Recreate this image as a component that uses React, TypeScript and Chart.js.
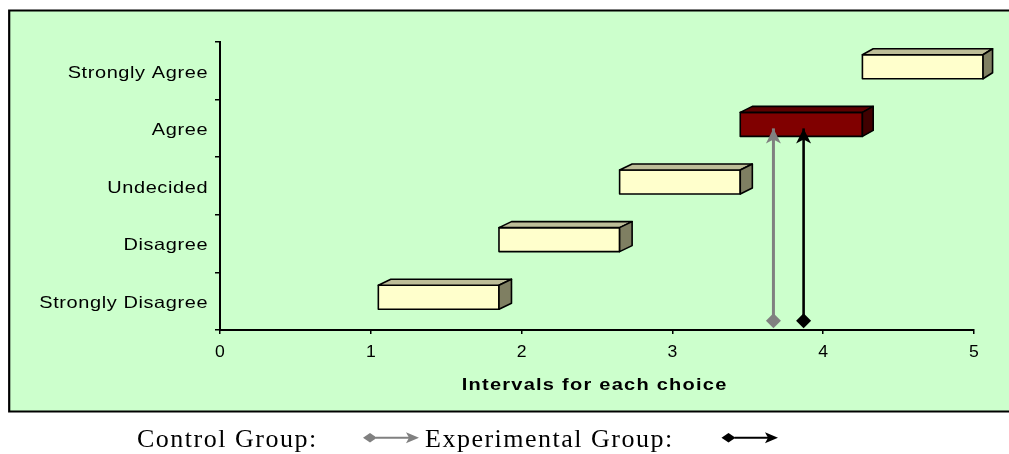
import React, { useEffect, useRef } from "react";
import { Chart, registerables } from "chart.js";

Chart.register(...registerables);

// ---------- data ----------
const categories = ["Strongly Disagree", "Disagree", "Undecided", "Agree", "Strongly Agree"];
const intervalStarts = [1.05, 1.85, 2.65, 3.45, 4.26];
const intervalEnds = [1.85, 2.65, 3.45, 4.26, 5.06];
const highlighted = [false, false, false, true, false];
const xTicks = [0, 1, 2, 3, 4, 5];
const controlMean = 3.67;
const experimentalMean = 3.87;
const arrowFrom = 0.16; // on the vertical value axis, in category units
const arrowTo = 3.5;
const xTitle = "Intervals for each choice";
const legendLabels = ["Control Group:", "Experimental Group:"];

// ---------- styles ----------
const GREEN = "#CCFFCC";
const BAR_FRONT = "#FFFFCC";
const BAR_TOP = "#BDBD98";
const BAR_SIDE = "#7F7F62";
const HL_FRONT = "#800000";
const HL_TOP = "#5E0000";
const HL_SIDE = "#400000";
const CONTROL_COLOR = "#808080";
const EXP_COLOR = "#000000";
const BAR_THICKNESS = 24;
const SANS = '"Liberation Sans", Arial, sans-serif';
const SERIF = '"Liberation Serif", "Times New Roman", serif';

function drawText(
  ctx: CanvasRenderingContext2D,
  text: string,
  x: number,
  y: number,
  sx: number,
  spacing: number,
  align: "left" | "right" | "center"
) {
  const chars = Array.from(text);
  const widths = chars.map((c) => ctx.measureText(c).width * sx);
  const total = widths.reduce((a, b) => a + b, 0) + spacing * (chars.length - 1);
  let pos = align === "right" ? x - total : align === "center" ? x - total / 2 : x;
  ctx.textAlign = "left";
  chars.forEach((c, i) => {
    ctx.save();
    ctx.translate(pos, y);
    ctx.scale(sx, 1);
    ctx.fillText(c, 0, 0);
    ctx.restore();
    pos += widths[i] + spacing;
  });
}

const depthX = (px: number) => 12.5 - Math.max(0, px - 700) / 95;
const DEPTH_Y = -6;

const boxPlugin = {
  id: "box",
  beforeDraw(chart: any) {
    const ctx = chart.ctx as CanvasRenderingContext2D;
    ctx.save();
    ctx.fillStyle = GREEN;
    ctx.fillRect(9, 10.5, chart.width, 401);
    ctx.strokeStyle = "#000";
    ctx.lineWidth = 2.2;
    ctx.beginPath();
    ctx.moveTo(chart.width + 5, 10.5);
    ctx.lineTo(9.2, 10.5);
    ctx.lineTo(9.2, 411.5);
    ctx.lineTo(chart.width + 5, 411.5);
    ctx.stroke();
    ctx.restore();
  },
};

const barsPlugin = {
  id: "bars3d",
  beforeDatasetsDraw(chart: any) {
    const ctx = chart.ctx as CanvasRenderingContext2D;
    const xs = chart.scales.x;
    const ys = chart.scales.y;
    ctx.save();
    ctx.lineWidth = 1.6;
    ctx.strokeStyle = "#000";
    ctx.lineJoin = "round";
    categories.forEach((_, i) => {
      const a = xs.getPixelForValue(intervalStarts[i]);
      const b = xs.getPixelForValue(intervalEnds[i]);
      const c = ys.getPixelForValue(i);
      const L = Math.min(a, b);
      const R = Math.max(a, b);
      const T = c - BAR_THICKNESS / 2 - 4;
      const B = c + BAR_THICKNESS / 2 - 4;
      const dxL = depthX(L);
      const dxR = depthX(R);
      const hl = highlighted[i];
      // front
      ctx.fillStyle = hl ? HL_FRONT : BAR_FRONT;
      ctx.beginPath();
      ctx.rect(L, T, R - L, B - T);
      ctx.fill();
      ctx.stroke();
      // top
      ctx.fillStyle = hl ? HL_TOP : BAR_TOP;
      ctx.beginPath();
      ctx.moveTo(L, T);
      ctx.lineTo(L + dxL, T + DEPTH_Y);
      ctx.lineTo(R + dxR, T + DEPTH_Y);
      ctx.lineTo(R, T);
      ctx.closePath();
      ctx.fill();
      ctx.stroke();
      // side
      ctx.fillStyle = hl ? HL_SIDE : BAR_SIDE;
      ctx.beginPath();
      ctx.moveTo(R, T);
      ctx.lineTo(R + dxR, T + DEPTH_Y);
      ctx.lineTo(R + dxR, B + DEPTH_Y);
      ctx.lineTo(R, B);
      ctx.closePath();
      ctx.fill();
      ctx.stroke();
    });
    ctx.restore();
  },
  afterDatasetsDraw(chart: any) {
    const ctx = chart.ctx as CanvasRenderingContext2D;
    ctx.save();
    [1, 2].forEach((di) => {
      const meta = chart.getDatasetMeta(di);
      const pts = meta.data;
      const tip = pts[pts.length - 1];
      ctx.fillStyle = chart.data.datasets[di].borderColor;
      ctx.beginPath();
      ctx.moveTo(tip.x, tip.y);
      ctx.lineTo(tip.x + 7.5, tip.y + 15);
      ctx.lineTo(tip.x, tip.y + 11);
      ctx.lineTo(tip.x - 7.5, tip.y + 15);
      ctx.closePath();
      ctx.fill();
    });
    ctx.restore();
  },
};

function legendSymbol(ctx: CanvasRenderingContext2D, cx: number, cy: number, end: number, color: string) {
  ctx.fillStyle = color;
  ctx.strokeStyle = color;
  ctx.beginPath();
  ctx.moveTo(cx - 7, cy);
  ctx.lineTo(cx, cy - 4.8);
  ctx.lineTo(cx + 7, cy);
  ctx.lineTo(cx, cy + 4.8);
  ctx.closePath();
  ctx.fill();
  ctx.lineWidth = 2;
  ctx.beginPath();
  ctx.moveTo(cx + 6, cy);
  ctx.lineTo(end - 9, cy);
  ctx.stroke();
  ctx.beginPath();
  ctx.moveTo(end, cy);
  ctx.lineTo(end - 13, cy - 5.5);
  ctx.lineTo(end - 10, cy);
  ctx.lineTo(end - 13, cy + 5.5);
  ctx.closePath();
  ctx.fill();
}

const textPlugin = {
  id: "texts",
  afterDraw(chart: any) {
    const ctx = chart.ctx as CanvasRenderingContext2D;
    const ys = chart.scales.y;
    const xs = chart.scales.x;
    const area = chart.chartArea;
    ctx.save();
    ctx.fillStyle = "#000";
    ctx.textBaseline = "alphabetic";
    // category labels
    ctx.font = `16.5px ${SANS}`;
    categories.forEach((label, i) => {
      const c = ys.getPixelForValue(i);
      drawText(ctx, label, 207.5, c + 6.8, 1.21, 0.6, "right");
    });
    // numeric tick labels
    ctx.font = `16px ${SANS}`;
    xs.ticks.forEach((t: any) => {
      const px = xs.getPixelForValue(t.value);
      drawText(ctx, String(t.value), px, 356.5, 1.1, 0, "center");
    });
    // axis title
    ctx.font = `bold 16px ${SANS}`;
    drawText(ctx, xTitle, (area.left + area.right) / 2 - 3, 390, 1.25, 1.25, "center");
    // legend
    ctx.font = `26px ${SERIF}`;
    drawText(ctx, legendLabels[0], 137, 447, 1, 1.5, "left");
    drawText(ctx, legendLabels[1], 425, 447, 1, 1.5, "left");
    legendSymbol(ctx, 370, 437.7, 419, CONTROL_COLOR);
    legendSymbol(ctx, 728.5, 437.7, 778, EXP_COLOR);
    ctx.restore();
  },
};

export default function App() {
  const ref = useRef<HTMLCanvasElement | null>(null);

  useEffect(() => {
    if (!ref.current) return;
    const chart = new Chart(ref.current, {
      type: "bar",
      data: {
        labels: categories,
        datasets: [
          {
            type: "bar",
            label: "Intervals",
            data: intervalStarts.map((s, i) => [s, intervalEnds[i]]),
            backgroundColor: "rgba(0,0,0,0)",
            borderWidth: 0,
            barThickness: BAR_THICKNESS,
            xAxisID: "x",
            yAxisID: "y",
            clip: false,
          } as any,
          {
            type: "line",
            label: legendLabels[0],
            data: [
              { x: controlMean, y: arrowFrom },
              { x: controlMean, y: arrowTo },
            ],
            indexAxis: "x",
            xAxisID: "x",
            yAxisID: "yv",
            borderColor: CONTROL_COLOR,
            borderWidth: 3,
            pointStyle: "rectRot",
            pointRadius: [7.5, 0],
            pointHoverRadius: 0,
            pointBackgroundColor: CONTROL_COLOR,
            pointBorderColor: CONTROL_COLOR,
            pointBorderWidth: 0,
            fill: false,
            tension: 0,
            clip: false,
          } as any,
          {
            type: "line",
            label: legendLabels[1],
            data: [
              { x: experimentalMean, y: arrowFrom },
              { x: experimentalMean, y: arrowTo },
            ],
            indexAxis: "x",
            xAxisID: "x",
            yAxisID: "yv",
            borderColor: EXP_COLOR,
            borderWidth: 2.6,
            pointStyle: "rectRot",
            pointRadius: [7.5, 0],
            pointHoverRadius: 0,
            pointBackgroundColor: EXP_COLOR,
            pointBorderColor: EXP_COLOR,
            pointBorderWidth: 0,
            fill: false,
            tension: 0,
            clip: false,
          } as any,
        ],
      },
      options: {
        animation: false,
        responsive: true,
        maintainAspectRatio: false,
        indexAxis: "y",
        events: [],
        layout: { padding: { left: 0, right: 35, top: 42, bottom: 0 } },
        plugins: {
          legend: { display: false },
          tooltip: { enabled: false },
          title: { display: false },
        },
        scales: {
          x: {
            type: "linear",
            position: "bottom",
            min: 0,
            max: 5,
            offset: false,
            afterBuildTicks: (s: any) => {
              s.ticks = xTicks.map((v) => ({ value: v }));
            },
            ticks: { display: false },
            grid: { display: true, drawOnChartArea: false, drawTicks: true, tickLength: 4, color: "#000", lineWidth: 1.5 },
            border: { display: true, color: "#000", width: 2 },
            afterFit: (s: any) => {
              s.height = 124;
            },
          },
          y: {
            type: "category",
            position: "left",
            reverse: true,
            offset: true,
            ticks: { display: false },
            grid: { display: true, offset: true, drawOnChartArea: false, drawTicks: true, tickLength: 5, color: "#000", lineWidth: 1.5 },
            border: { display: true, color: "#000", width: 2 },
            afterFit: (s: any) => {
              s.width = 220;
            },
          },
          yv: { type: "linear", position: "left", min: 0, max: 5, offset: false, display: false },
        },
      } as any,
      plugins: [boxPlugin, barsPlugin, textPlugin],
    });
    return () => chart.destroy();
  }, []);

  return (
    <div style={{ position: "absolute", left: 0, top: 0, width: 1009, height: 454, background: "#fff" }}>
      <canvas ref={ref} style={{ display: "block" }} />
    </div>
  );
}
